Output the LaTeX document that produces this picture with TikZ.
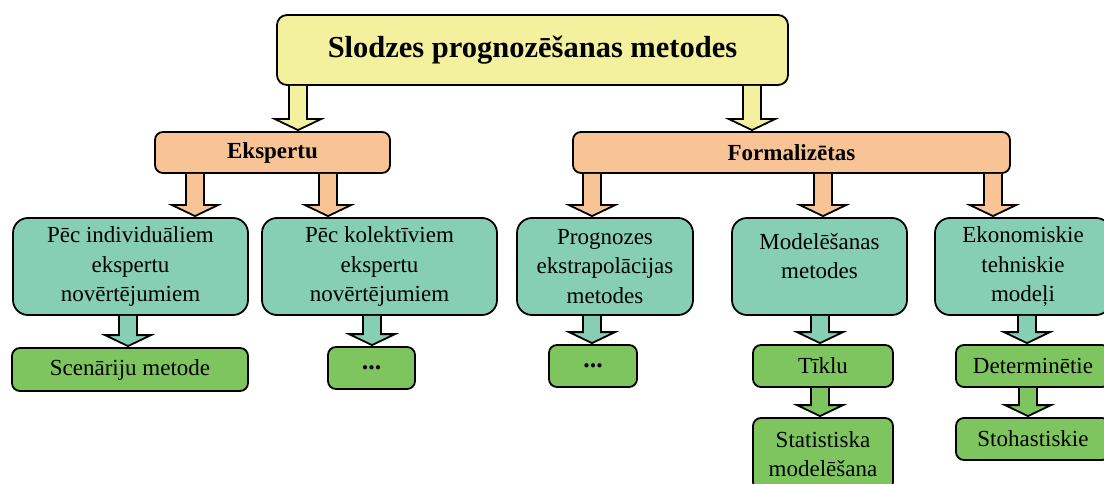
\documentclass[tikz,border=0pt]{standalone}
\usepackage{fontspec}
\setmainfont{Liberation Serif}
\usetikzlibrary{calc}
\definecolor{cyellow}{RGB}{243,240,158}
\definecolor{cpeach}{RGB}{248,196,150}
\definecolor{cteal}{RGB}{134,206,180}
\definecolor{cgreen}{RGB}{126,197,96}
\tikzset{
 box/.style={draw=black, line width=1.8pt, inner sep=0pt, align=center, font=\fontsize{23}{29.5}\selectfont},
 wh/.style 2 args={minimum width=#1pt, minimum height=#2pt},
 topbox/.style={box, fill=cyellow, rounded corners=10pt, font=\bfseries\fontsize{30.5}{36}\selectfont},
 midbox/.style={box, fill=cpeach, rounded corners=8pt, font=\bfseries\fontsize{23}{26}\selectfont},
 tealbox/.style={box, fill=cteal, rounded corners=15pt},
 greenbox/.style={box, fill=cgreen, rounded corners=8pt},
 dotsbox/.style={greenbox, font=\bfseries\fontsize{26}{30}\selectfont},
 barrowline/.style={draw=black, line width=1.8pt, line join=miter},
}
% #1 source, #2 target, #3 x position (px), #4 fill colour
\newcommand\barrow[4]{%
 \draw[barrowline, fill=#4] let \p1=(#1.south), \p2=(#2.north) in
  (#3pt-9pt,\y1) -- (#3pt-9pt,\y2+12pt) -- (#3pt-23pt,\y2+12pt) -- (#3pt,\y2+1pt)
  -- (#3pt+23pt,\y2+12pt) -- (#3pt+9pt,\y2+12pt) -- (#3pt+9pt,\y1);}
\begin{document}
\begin{tikzpicture}[x=1pt,y=-1pt]
\useasboundingbox[fill=white] (0,0) rectangle (1104,484);
\node[topbox, wh={511}{70}] (top) at (532.5,50) {Slodzes prognozēšanas metodes};
\node[midbox, wh={235}{41}] (eksp) at (272.5,152.5) {Ekspertu};
\node[midbox, wh={437}{41}] (form) at (791.5,152.5) {Formalizētas};
\node[tealbox, wh={235}{97}] (t1) at (130.5,266.5) {Pēc individuāliem\\ekspertu\\novērtējumiem};
\node[tealbox, wh={235}{97}] (t2) at (379.5,266.5) {Pēc kolektīviem\\ekspertu\\novērtējumiem};
\node[tealbox, wh={176}{97}] (t3) at (605,266.5) {Prognozes\\ekstrapolācijas\\metodes};
\node[tealbox, wh={175}{97}, text depth=21pt] (t4) at (819.5,266.5) {Modelēšanas\\metodes};
\node[tealbox, wh={176}{97}] (t5) at (1023,266.5) {Ekonomiskie\\tehniskie\\modeļi};
\node[greenbox, wh={236}{43}] (g1) at (130,369.5) {Scenāriju metode};
\node[dotsbox, wh={87}{42}] (g2) at (371.5,368) {...};
\node[dotsbox, wh={88}{42}] (g3) at (593,366) {...};
\node[greenbox, wh={140}{42}] (g4) at (823,366) {Tīklu};
\node[greenbox, wh={140}{72}] (g5) at (823,454) {Statistiska\\modelēšana};
\node[greenbox, wh={154}{42}] (g6) at (1033,366) {Determinētie};
\node[greenbox, wh={154}{42}] (g7) at (1033,439) {Stohastiskie};
\barrow{top}{eksp}{298}{cyellow}
\barrow{top}{form}{752}{cyellow}
\barrow{eksp}{t1}{195}{cpeach}
\barrow{eksp}{t2}{328}{cpeach}
\barrow{form}{t3}{592}{cpeach}
\barrow{form}{t4}{823}{cpeach}
\barrow{form}{t5}{993}{cpeach}
\barrow{t1}{g1}{128}{cteal}
\barrow{t2}{g2}{372}{cteal}
\barrow{t3}{g3}{592}{cteal}
\barrow{t4}{g4}{820}{cteal}
\barrow{t5}{g6}{1027}{cteal}
\barrow{g4}{g5}{820}{cgreen}
\barrow{g6}{g7}{1028}{cgreen}
\end{tikzpicture}
\end{document}
